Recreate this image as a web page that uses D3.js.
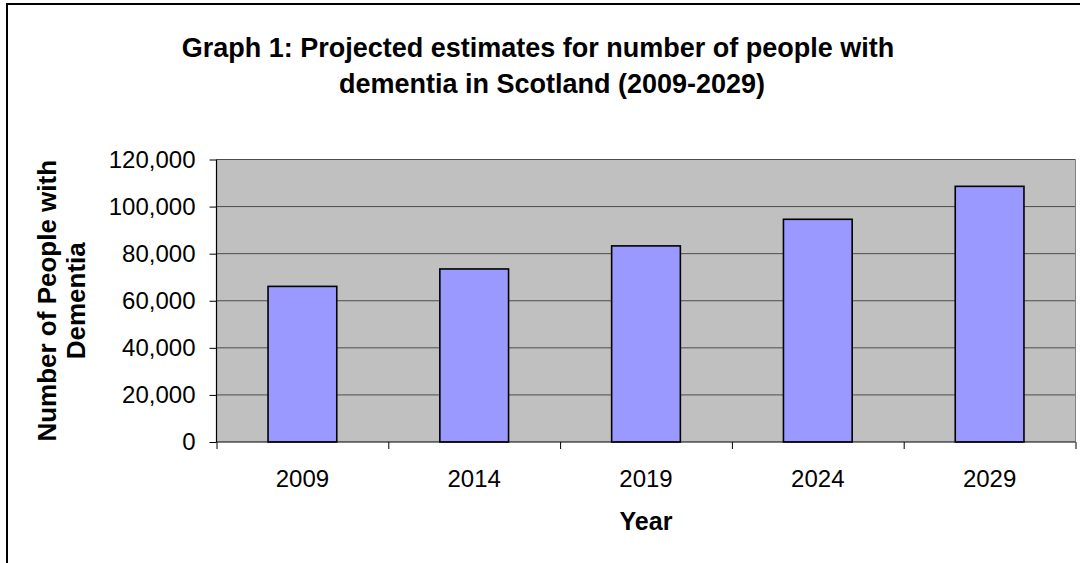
<!DOCTYPE html>
<html>
<head>
<meta charset="utf-8">
<script src="https://cdn.jsdelivr.net/npm/d3@7"></script>
<style>
  body { margin: 0; background: #fff; }
  svg { display: block; font-family: "Liberation Sans", Arial, sans-serif; }
  .axis path { display: none; }
  .axis line { stroke: #000; }
</style>
</head>
<body>
<svg id="chart"></svg>
<script>
// data
const years = ["2009", "2014", "2019", "2024", "2029"];
const people = [66100, 73500, 83300, 94600, 108600];
const yTicks = [0, 20000, 40000, 60000, 80000, 100000, 120000];
const titleLines = ["Graph 1: Projected estimates for number of people with",
                    "dementia in Scotland (2009-2029)"];
const yTitleLines = ["Number of People with", "Dementia"];

const W = 1080, H = 563;
const plot = { left: 216.5, right: 1075.5, top: 159.5, bottom: 442 };

const svg = d3.select("#chart").attr("width", W).attr("height", H);

// outer chart frame (runs off the right and bottom edges)
svg.append("rect")
  .attr("x", 7).attr("y", 4)
  .attr("width", W + 20).attr("height", H + 20)
  .attr("fill", "#fff").attr("stroke", "#000").attr("stroke-width", 2);

// scales
const xscale = d3.scaleBand().domain(years)
  .range([plot.left, plot.right]).paddingInner(0.6).paddingOuter(0.3);
const xedge = d3.scaleLinear().domain([0, years.length]).range([plot.left, plot.right]);
const yscale = d3.scaleLinear().domain([0, 120000]).range([plot.bottom, plot.top]);

// plot background
svg.append("rect")
  .attr("x", plot.left).attr("y", plot.top)
  .attr("width", plot.right - plot.left).attr("height", plot.bottom - plot.top)
  .attr("fill", "#c0c0c0");

// gridlines
svg.append("g").selectAll("line")
  .data(yTicks.filter((d) => d > 0))
  .join("line")
  .attr("x1", plot.left).attr("x2", plot.right)
  .attr("y1", (d) => yscale(d)).attr("y2", (d) => yscale(d))
  .attr("stroke", "#4d4d4d").attr("stroke-width", 1);

// right edge of the plot area
svg.append("line")
  .attr("x1", plot.right).attr("x2", plot.right)
  .attr("y1", plot.top).attr("y2", plot.bottom)
  .attr("stroke", "#808080").attr("stroke-width", 1);

// bars
svg.append("g").selectAll("rect")
  .data(years.map((y, i) => ({ year: y, value: people[i] })))
  .join("rect")
  .attr("x", (d) => xscale(d.year))
  .attr("width", xscale.bandwidth())
  .attr("y", (d) => yscale(d.value))
  .attr("height", (d) => plot.bottom - yscale(d.value))
  .attr("fill", "#9999ff")
  .attr("stroke", "#000").attr("stroke-width", 1.6);

// y axis
const g_yaxis = svg.append("g").attr("class", "axis")
  .attr("transform", `translate(${plot.left},0)`)
  .call(d3.axisLeft(yscale).tickValues(yTicks).tickFormat(d3.format(",")).tickSize(7).tickPadding(14));
g_yaxis.selectAll("text")
  .attr("font-size", 24).attr("fill", "#000").attr("font-family", "Liberation Sans, Arial, sans-serif");
svg.append("line")
  .attr("x1", plot.left).attr("x2", plot.left)
  .attr("y1", plot.top).attr("y2", plot.bottom)
  .attr("stroke", "#000").attr("stroke-width", 1.2);

// x axis: ticks on category boundaries, labels at category centres
svg.append("g").attr("class", "axis")
  .attr("transform", `translate(0,${plot.bottom})`)
  .call(d3.axisBottom(xedge).tickValues(d3.range(years.length + 1)).tickFormat("").tickSize(7));
svg.append("line")
  .attr("x1", plot.left).attr("x2", plot.right)
  .attr("y1", plot.bottom).attr("y2", plot.bottom)
  .attr("stroke", "#000").attr("stroke-width", 1.2);

svg.append("g").selectAll("text")
  .data(years)
  .join("text")
  .attr("x", (d) => xscale(d) + xscale.bandwidth() / 2)
  .attr("y", 487)
  .attr("text-anchor", "middle")
  .attr("font-size", 24)
  .text((d) => d);

// axis titles
svg.append("text")
  .attr("x", 646).attr("y", 530)
  .attr("text-anchor", "middle")
  .attr("font-size", 25).attr("font-weight", "bold")
  .text("Year");

svg.append("g")
  .attr("transform", `translate(47,${(plot.top + plot.bottom) / 2}) rotate(-90)`)
  .selectAll("text")
  .data(yTitleLines)
  .join("text")
  .attr("x", 0)
  .attr("y", (d, i) => 9 + i * 29)
  .attr("text-anchor", "middle")
  .attr("font-size", 26).attr("font-weight", "bold")
  .text((d) => d);

// chart title
svg.append("g").selectAll("text")
  .data(titleLines)
  .join("text")
  .attr("x", (d, i) => (i === 0 ? 538 : 552))
  .attr("y", (d, i) => 57 + i * 36)
  .attr("text-anchor", "middle")
  .attr("font-size", 27).attr("font-weight", "bold")
  .text((d) => d);
</script>
</body>
</html>
